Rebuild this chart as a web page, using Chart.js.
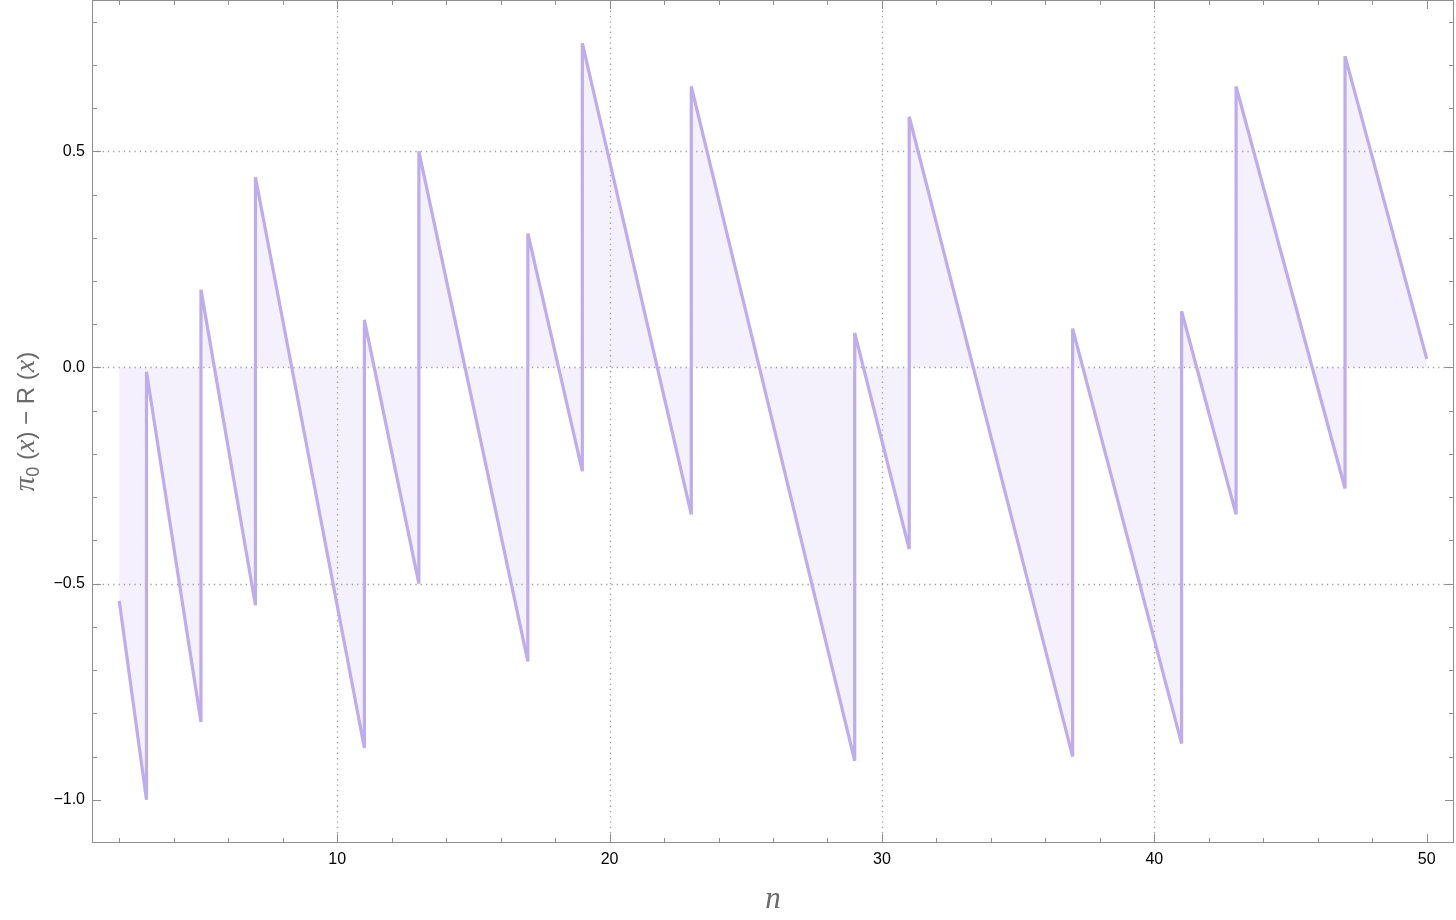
<!DOCTYPE html>
<html>
<head>
<meta charset="utf-8">
<script src="https://cdn.jsdelivr.net/npm/chart.js@4.4.1/dist/chart.umd.min.js"></script>
<style>
  html, body { margin: 0; padding: 0; background: #fff; }
  #wrap { width: 1456px; height: 920px; }
</style>
</head>
<body>
<div id="wrap"><canvas id="chart"></canvas></div>
<script>
// sawtooth: each prime has a value just before and just after the jump
const nValues = [2, 3, 3, 5, 5, 7, 7, 11, 11, 13, 13, 17, 17, 19, 19, 23, 23,
  29, 29, 31, 31, 37, 37, 41, 41, 43, 43, 47, 47, 50];
const diffValues = [-0.54, -1.00, -0.01, -0.82, 0.18, -0.55, 0.44, -0.88, 0.11,
  -0.50, 0.50, -0.68, 0.31, -0.24, 0.75, -0.34, 0.65, -0.91, 0.08, -0.42, 0.58,
  -0.90, 0.09, -0.87, 0.13, -0.34, 0.65, -0.28, 0.72, 0.02];

const xTickValues = [10, 20, 30, 40, 50];
const yTickValues = [-1.0, -0.5, 0.0, 0.5];
const xGridValues = [10, 20, 30, 40];
const yGridValues = [-0.5, 0.0, 0.5];

const lineColor = "rgb(190, 172, 236)";
const fillColor = "rgba(190, 172, 236, 0.17)";
const frameColor = "#8e8e8e";
const titleColor = "#6a6a6a";
const sansFont = '"Liberation Sans", Arial, sans-serif';
const serifFont = '"Liberation Serif", "Times New Roman", serif';

// dotted grid, frame with inward ticks, and the axis titles
const framePlugin = {
  id: "frame",
  beforeDatasetsDraw(chart) {
    const { ctx, chartArea: a, scales: { x, y } } = chart;
    ctx.save();
    ctx.strokeStyle = "#9c9c9c";
    ctx.lineWidth = 1.3;
    ctx.setLineDash([1.3, 4]);
    xGridValues.forEach((v) => {
      const px = Math.round(x.getPixelForValue(v)) + 0.5;
      ctx.beginPath();
      ctx.moveTo(px, a.top);
      ctx.lineTo(px, a.bottom);
      ctx.stroke();
    });
    yGridValues.forEach((v) => {
      const py = Math.round(y.getPixelForValue(v)) + 0.5;
      ctx.beginPath();
      ctx.moveTo(a.left, py);
      ctx.lineTo(a.right, py);
      ctx.stroke();
    });
    ctx.restore();
  },
  afterDatasetsDraw(chart) {
    const { ctx, chartArea: a, scales: { x, y } } = chart;
    ctx.save();
    ctx.strokeStyle = frameColor;
    ctx.lineWidth = 1;
    ctx.strokeRect(a.left + 0.5, a.top + 0.5, a.right - a.left - 1, a.bottom - a.top - 1);

    const major = 9, minor = 5;
    // x ticks every 2, major every 10
    for (let v = 2; v <= 50; v += 2) {
      const len = v % 10 === 0 ? major : minor;
      const px = Math.round(x.getPixelForValue(v)) + 0.5;
      ctx.beginPath();
      ctx.moveTo(px, a.bottom);
      ctx.lineTo(px, a.bottom - len);
      ctx.moveTo(px, a.top);
      ctx.lineTo(px, a.top + len);
      ctx.stroke();
    }
    // y ticks every 0.1, major every 0.5
    for (let i = -10; i <= 8; i++) {
      const len = i % 5 === 0 ? major : minor;
      const py = Math.round(y.getPixelForValue(i / 10)) + 0.5;
      ctx.beginPath();
      ctx.moveTo(a.left, py);
      ctx.lineTo(a.left + len, py);
      ctx.moveTo(a.right, py);
      ctx.lineTo(a.right - len, py);
      ctx.stroke();
    }
    ctx.restore();
  },
  afterDraw(chart) {
    const { ctx, chartArea: a } = chart;
    ctx.save();
    ctx.fillStyle = titleColor;
    ctx.textBaseline = "alphabetic";

    // x title
    ctx.font = "italic 31px " + serifFont;
    ctx.textAlign = "center";
    ctx.fillText("n", (a.left + a.right) / 2, 908);

    // y title, rotated, built from pieces
    const pieces = [
      { t: "\u03c0", f: "italic 29px " + serifFont, dy: 0 },
      { t: "0", f: "18px " + sansFont, dy: 5 },
      { t: " (", f: "24px " + sansFont, dy: 0 },
      { t: "x", f: "italic 28px " + serifFont, dy: 0 },
      { t: ")", f: "24px " + sansFont, dy: 0 },
      { t: " \u2212 ", f: "24px " + sansFont, dy: 0 },
      { t: "R", f: "24px " + sansFont, dy: 0 },
      { t: " (", f: "24px " + sansFont, dy: 0 },
      { t: "x", f: "italic 28px " + serifFont, dy: 0 },
      { t: ")", f: "24px " + sansFont, dy: 0 },
    ];
    let total = 0;
    pieces.forEach((p) => {
      ctx.font = p.f;
      p.w = ctx.measureText(p.t).width;
      total += p.w;
    });
    ctx.translate(34, (a.top + a.bottom) / 2);
    ctx.rotate(-Math.PI / 2);
    ctx.textAlign = "left";
    let cx = -total / 2;
    pieces.forEach((p) => {
      ctx.font = p.f;
      ctx.fillText(p.t, cx, p.dy);
      cx += p.w;
    });
    ctx.restore();
  },
};

const points = nValues.map((n, i) => ({ x: n, y: diffValues[i] }));

new Chart(document.getElementById("chart"), {
  type: "line",
  data: {
    datasets: [
      {
        data: points,
        borderColor: lineColor,
        backgroundColor: fillColor,
        borderWidth: 3.2,
        borderJoinStyle: "bevel",
        fill: "origin",
        pointRadius: 0,
        tension: 0,
      },
    ],
  },
  options: {
    responsive: true,
    maintainAspectRatio: false,
    animation: false,
    layout: { padding: { top: 0, right: 2, left: 0, bottom: 0 } },
    plugins: {
      legend: { display: false },
      tooltip: { enabled: false },
    },
    scales: {
      x: {
        type: "linear",
        min: 1,
        max: 51,
        afterBuildTicks: (scale) => {
          scale.ticks = xTickValues.map((v) => ({ value: v }));
        },
        afterFit: (scale) => {
          scale.height = 77;
          scale.paddingLeft = 0;
          scale.paddingRight = 0;
        },
        grid: { display: false, drawTicks: false },
        border: { display: false },
        ticks: {
          autoSkip: false,
          maxRotation: 0,
          padding: 7,
          color: "#000",
          font: { family: sansFont, size: 16 },
        },
      },
      y: {
        min: -1.1,
        max: 0.85,
        afterBuildTicks: (scale) => {
          scale.ticks = yTickValues.map((v) => ({ value: v }));
        },
        afterFit: (scale) => {
          scale.width = 92;
          scale.paddingTop = 0;
          scale.paddingBottom = 0;
        },
        grid: { display: false, drawTicks: false },
        border: { display: false },
        ticks: {
          padding: 7,
          color: "#000",
          font: { family: sansFont, size: 16 },
          callback: (v) => v.toFixed(1).replace("-", "\u2212"),
        },
      },
    },
  },
  plugins: [framePlugin],
});
</script>
</body>
</html>
